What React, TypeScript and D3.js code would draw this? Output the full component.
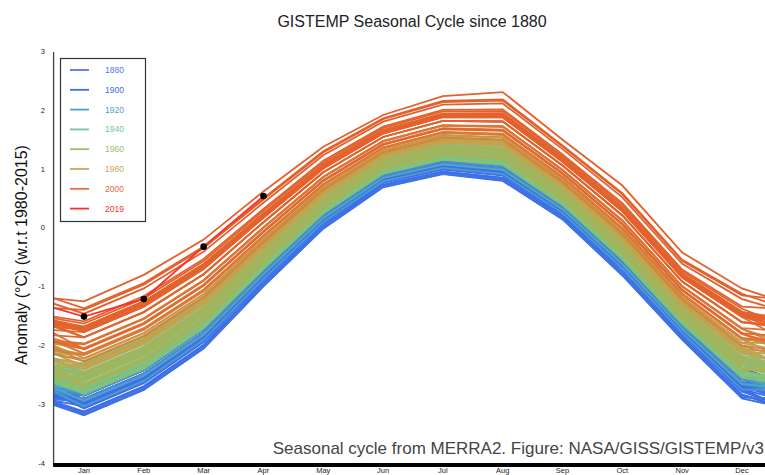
import * as d3 from "d3";

const WIDTH = 765;
const HEIGHT = 475;

const MONTHS = ["Jan", "Feb", "Mar", "Apr", "May", "Jun", "Jul", "Aug", "Sep", "Oct", "Nov", "Dec"];

// mean seasonal cycle (1980-2015 = 0 line)
const BASE_CYCLE = [-1.98, -1.55, -0.9, 0.0, 0.86, 1.47, 1.74, 1.72, 0.98, 0.12, -1.0, -1.72];
// how far each month spreads per degree of annual anomaly (band width per month)
const MONTH_SPREAD = [1.3, 1.3, 1.24, 1.07, 0.94, 0.84, 0.89, 0.99, 0.9, 1.0, 0.97, 1.27];

const FIRST_YEAR = 1880;
// annual anomaly w.r.t. 1980-2015, 1880..2018
const ANNUAL_OFFSET = [
  -0.61, -0.53, -0.56, -0.62, -0.73, -0.78, -0.76, -0.81, -0.62, -0.55,
  -0.8, -0.67, -0.72, -0.76, -0.75, -0.67, -0.56, -0.56, -0.72, -0.62,
  -0.53, -0.6, -0.73, -0.82, -0.92, -0.71, -0.67, -0.84, -0.88, -0.93,
  -0.88, -0.89, -0.81, -0.79, -0.6, -0.59, -0.81, -0.91, -0.75, -0.72,
  -0.72, -0.64, -0.73, -0.71, -0.72, -0.67, -0.56, -0.67, -0.65, -0.81,
  -0.61, -0.55, -0.61, -0.74, -0.58, -0.65, -0.6, -0.48, -0.46, -0.47,
  -0.32, -0.26, -0.38, -0.36, -0.25, -0.36, -0.52, -0.48, -0.56, -0.56,
  -0.62, -0.52, -0.44, -0.37, -0.58, -0.59, -0.64, -0.4, -0.39, -0.42,
  -0.48, -0.39, -0.42, -0.4, -0.65, -0.56, -0.51, -0.47, -0.53, -0.4,
  -0.42, -0.53, -0.44, -0.29, -0.52, -0.46, -0.55, -0.27, -0.38, -0.29,
  -0.19, -0.13, -0.31, -0.14, -0.29, -0.33, -0.27, -0.13, -0.06, -0.18,
  0.0, -0.05, -0.23, -0.22, -0.14, 0.0, -0.12, 0.01, 0.16, -0.07,
  -0.06, 0.09, 0.18, 0.17, 0.09, 0.23, 0.19, 0.21, 0.09, 0.21,
  0.27, 0.16, 0.2, 0.23, 0.3, 0.45, 0.56, 0.47, 0.4,
];

// lines
const YEAR_2016 = [-1.25, -0.8, -0.2, 0.62, 1.38, 1.92, 2.24, 2.31, 1.5, 0.72, -0.42, -1.03];
const YEAR_2019 = [-1.51, -1.21, -0.32, 0.54];

const LEGEND_YEARS = [1880, 1900, 1920, 1940, 1960, 1980, 2000, 2019];
const LEGEND_COLORS = ["#5a72f0", "#3c6ee6", "#4aa2c8", "#74c49c", "#92c070", "#c8a85a", "#ec6a3c", "#ff2e2e"];

// colour ramp used for the lines themselves
const RAMP_YEARS = [1880, 1915, 1930, 1945, 1965, 1985, 2000, 2018];
const RAMP_COLORS = ["#4a6ef0", "#3c6ee6", "#4a9fcc", "#78c496", "#8cc068", "#c4a44c", "#e4662f", "#e2602c"];

const Y_TICKS = [-4, -3, -2, -1, 0, 1, 2, 3];

const x = d3.scaleLinear().domain([1, 12]).range([84, 742]);
const y = d3.scaleLinear().domain([-4, 3]).range([463, 51.5]);
const PLOT_LEFT = x(0.5);

const lineColor = d3
  .scaleLinear<string>()
  .domain(RAMP_YEARS)
  .range(RAMP_COLORS)
  .interpolate(d3.interpolateRgb);

function monthly(year: number): number[] {
  if (year === 2016) return YEAR_2016;
  const off = ANNUAL_OFFSET[year - FIRST_YEAR];
  return BASE_CYCLE.map((b, m) => b + MONTH_SPREAD[m] * off);
}

type Pt = { m: number; v: number };

const LAST_FULL = FIRST_YEAR + ANNUAL_OFFSET.length - 1;
const series: { year: number; pts: Pt[] }[] = d3.range(FIRST_YEAR, LAST_FULL + 1).map((year) => {
  const vals = monthly(year);
  const prev = year > FIRST_YEAR ? monthly(year - 1)[11] : vals[11];
  const next = year < LAST_FULL ? monthly(year + 1)[0] : YEAR_2019[0];
  const pts: Pt[] = [{ m: 0, v: prev }];
  vals.forEach((v, i) => pts.push({ m: i + 1, v }));
  pts.push({ m: 13, v: next });
  return { year, pts };
});

const pts2019: Pt[] = [{ m: 0, v: monthly(LAST_FULL)[11] }, ...YEAR_2019.map((v, i) => ({ m: i + 1, v }))];

const line = d3
  .line<Pt>()
  .x((d) => x(d.m))
  .y((d) => y(d.v));

export default function App() {
  return (
    <svg
      width={WIDTH}
      height={HEIGHT}
      style={{ position: "absolute", left: 0, top: 0, background: "#fff" }}
      fontFamily="'Liberation Sans', Arial, sans-serif"
    >
      <defs>
        <clipPath id="plot">
          <rect x={PLOT_LEFT} y={0} width={WIDTH - PLOT_LEFT} height={462} />
        </clipPath>
      </defs>

      <text x={412} y={26.5} textAnchor="middle" fontSize={16} fill="#222">
        GISTEMP Seasonal Cycle since 1880
      </text>

      <g clipPath="url(#plot)">
        {series.map((s) => (
          <path
            key={s.year}
            d={line(s.pts) ?? ""}
            fill="none"
            stroke={lineColor(s.year)}
            strokeWidth={1.8}
          />
        ))}
        <path d={line(pts2019) ?? ""} fill="none" stroke={LEGEND_COLORS[7]} strokeWidth={1.8} />
        {YEAR_2019.map((v, i) => (
          <circle key={i} cx={x(i + 1)} cy={y(v)} r={3.3} fill="#000" />
        ))}
      </g>

      {/* y axis */}
      <line x1={PLOT_LEFT - 0.5} x2={PLOT_LEFT - 0.5} y1={52} y2={465} stroke="#444" strokeWidth={1.3} />
      {Y_TICKS.map((t) => (
        <text key={t} x={45} y={y(t)} dy="0.35em" textAnchor="end" fontSize={7.5} fill="#222">
          {t}
        </text>
      ))}
      <text transform="translate(27,255) rotate(-90)" textAnchor="middle" fontSize={16} fill="#111">
        Anomaly (°C) (w.r.t 1980-2015)
      </text>

      {/* x axis */}
      <rect x={PLOT_LEFT - 1} y={463} width={WIDTH - PLOT_LEFT + 1} height={4} fill="#000" />
      {MONTHS.map((m, i) => (
        <text key={m} x={x(i + 1)} y={473.3} textAnchor="middle" fontSize={7.5} fill="#222">
          {m}
        </text>
      ))}

      <text x={764} y={453.5} textAnchor="end" fontSize={17} fill="#444">
        Seasonal cycle from MERRA2. Figure: NASA/GISS/GISTEMP/v3
      </text>

      {/* legend */}
      <rect x={60.5} y={58.5} width={85} height={163} fill="#fff" stroke="#333" strokeWidth={1.2} />
      {LEGEND_YEARS.map((yr, i) => (
        <g key={yr} transform={`translate(0,${70 + i * 19.8})`}>
          <line x1={70} x2={89} y1={0} y2={0} stroke={LEGEND_COLORS[i]} strokeWidth={1.8} />
          <text x={105} y={0} dy="0.35em" fontSize={8.5} fill={LEGEND_COLORS[i]}>
            {yr}
          </text>
        </g>
      ))}
    </svg>
  );
}
